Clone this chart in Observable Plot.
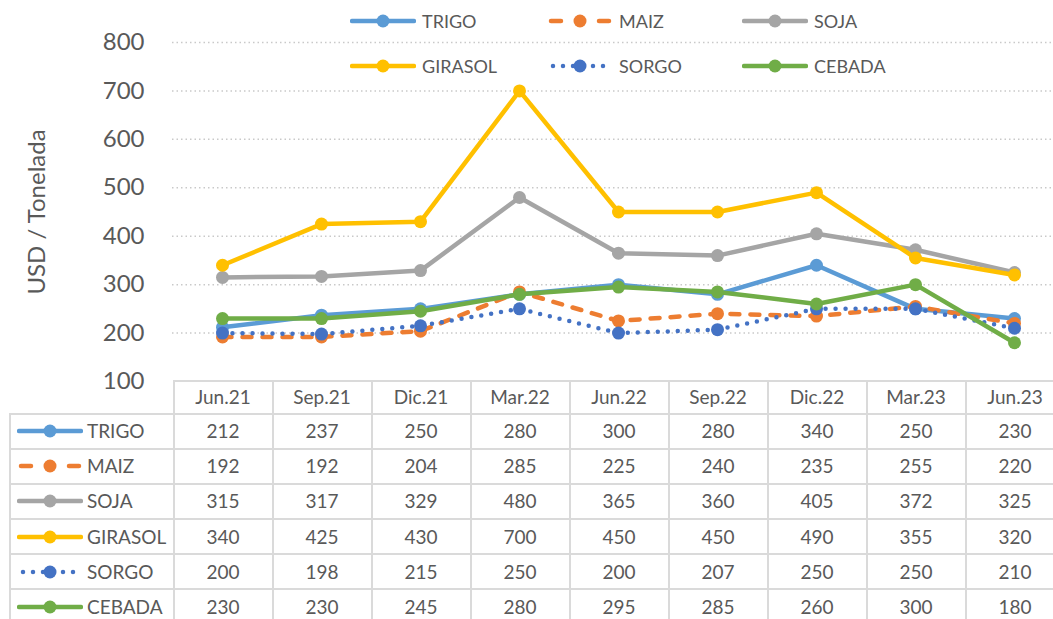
<!DOCTYPE html>
<html><head><meta charset="utf-8">
<script src="https://cdn.jsdelivr.net/npm/d3@7"></script>
<script src="https://cdn.jsdelivr.net/npm/@observablehq/plot@0.6"></script>
<style>
body{margin:0;background:#fff;font-family:Lato, sans-serif;}
#wrap{position:relative;width:1053px;height:619px;overflow:hidden;background:#fff;}
#wrap svg.chart{position:absolute;left:0;top:0;}
.leg{position:absolute;display:flex;align-items:center;font-size:18px;color:#595959;height:24px;white-space:nowrap;}
.leg svg{margin-right:6px;}
table.dt{position:absolute;left:9px;top:380px;border-collapse:collapse;table-layout:fixed;font-size:19px;line-height:22px;color:#595959;}
table.dt td{border:2px solid #dadada;padding:0;text-align:center;overflow:hidden;white-space:nowrap;}
table.dt td.lab{text-align:left;}
.labin{display:flex;align-items:center;padding-left:6px;}
.labin svg{margin-right:4px;}
</style></head><body><div id="wrap"></div>
<script>
// ---- data ----
const periods = ["Jun.21","Sep.21","Dic.21","Mar.22","Jun.22","Sep.22","Dic.22","Mar.23","Jun.23"];
const seriesNames = ["TRIGO","MAIZ","SOJA","GIRASOL","SORGO","CEBADA"];
const trigo   = [212,237,250,280,300,280,340,250,230];
const maiz    = [192,192,204,285,225,240,235,255,220];
const soja    = [315,317,329,480,365,360,405,372,325];
const girasol = [340,425,430,700,450,450,490,355,320];
const sorgo   = [200,198,215,250,200,207,250,250,210];
const cebada  = [230,230,245,280,295,285,260,300,180];
const yTicks  = [100,200,300,400,500,600,700,800];
const yTitle  = "USD / Tonelada";

// ---- styles ----
const seriesValues = [trigo, maiz, soja, girasol, sorgo, cebada];
const colors = ["#5B9BD5","#ED7D31","#A5A5A5","#FFC000","#4472C4","#70AD47"];
const dashes = [null, "9,11", null, null, "0,10", null];

const rows = seriesNames.flatMap((s, i) => periods.map((p, j) => ({serie: s, period: p, value: seriesValues[i][j]})));

const marks = [
  Plot.gridY(yTicks.filter(t => t > 100), {stroke:"#c9c9c9", strokeOpacity:1, strokeWidth:1.5, strokeDasharray:"1.5,3"}),
  Plot.axisY(yTicks, {tickSize:0, tickPadding:28, fontSize:24, color:"#595959", label:yTitle, labelAnchor:"center", labelArrow:"none", labelOffset:145})
];
seriesNames.forEach((s, i) => {
  const d = rows.filter(r => r.serie === s);
  marks.push(Plot.line(d, {x:"period", y:"value", stroke:colors[i], strokeWidth:4.5, strokeDasharray:dashes[i], strokeLinecap:"round", strokeLinejoin:"round"}));
  marks.push(Plot.dot(d, {x:"period", y:"value", r:6.5, fill:colors[i], stroke:null}));
});

const chart = Plot.plot({
  width:1053, height:619,
  marginTop:42, marginBottom:238, marginLeft:172, marginRight:0,
  style:{fontFamily:"Lato, sans-serif", background:"transparent", overflow:"visible"},
  x:{type:"point", domain:periods, range:[172, 1063], padding:0.5, axis:null},
  y:{domain:[100,800], axis:null},
  marks
});
chart.classList.add("chart");
const wrap = document.getElementById("wrap");
wrap.appendChild(chart);

// ---- swatch helper ----
function swatch(i, w) {
  const ns = "http://www.w3.org/2000/svg";
  const svg = document.createElementNS(ns, "svg");
  svg.setAttribute("width", w); svg.setAttribute("height", 16);
  const c = w / 2;
  const line = document.createElementNS(ns, "line");
  line.setAttribute("y1", 8); line.setAttribute("y2", 8);
  line.setAttribute("stroke", colors[i]); line.setAttribute("stroke-width", 4.5);
  line.setAttribute("stroke-linecap", "round");
  if (seriesNames[i] === "MAIZ") {
    line.setAttribute("x1", 4); line.setAttribute("x2", w - 4);
    const L = w - 8; line.setAttribute("stroke-dasharray", `10,${L - 20},10`);
  } else if (seriesNames[i] === "SORGO") {
    line.setAttribute("x1", 6); line.setAttribute("x2", w - 6);
    line.setAttribute("stroke-dasharray", "0,10");
  } else {
    line.setAttribute("x1", 2); line.setAttribute("x2", w - 2);
  }
  svg.appendChild(line);
  const dot = document.createElementNS(ns, "circle");
  dot.setAttribute("cx", c); dot.setAttribute("cy", 8); dot.setAttribute("r", 6.5);
  dot.setAttribute("fill", colors[i]);
  svg.appendChild(dot);
  return svg;
}

// ---- legend ----
const legX = [350, 547, 742], legY = [21, 66];
seriesNames.forEach((s, i) => {
  const el = document.createElement("div");
  el.className = "leg";
  el.style.left = legX[i % 3] + "px";
  el.style.top = (legY[Math.floor(i / 3)] - 12) + "px";
  el.appendChild(swatch(i, 66));
  const t = document.createElement("span"); t.textContent = s;
  el.appendChild(t);
  wrap.appendChild(el);
});

// ---- data table ----
const sx = chart.scale("x");
const step = sx.apply(periods[1]) - sx.apply(periods[0]);
const colStart = sx.apply(periods[0]) - step / 2;
const table = document.createElement("table");
table.className = "dt";
const cg = document.createElement("colgroup");
const c0 = document.createElement("col"); c0.style.width = (colStart - 9) + "px"; cg.appendChild(c0);
periods.forEach(() => { const c = document.createElement("col"); c.style.width = step + "px"; cg.appendChild(c); });
table.appendChild(cg);
table.style.width = (colStart - 9 + step * periods.length) + "px";
const hr = document.createElement("tr"); hr.style.height = "32.5px";
const h0 = document.createElement("td"); h0.style.border = "none"; hr.appendChild(h0);
periods.forEach(p => { const td = document.createElement("td"); td.textContent = p; hr.appendChild(td); });
table.appendChild(hr);
seriesNames.forEach((s, i) => {
  const tr = document.createElement("tr"); tr.style.height = "35.2px";
  const lab = document.createElement("td"); lab.className = "lab";
  const inner = document.createElement("div"); inner.className = "labin";
  inner.appendChild(swatch(i, 66));
  const t = document.createElement("span"); t.textContent = s; inner.appendChild(t);
  lab.appendChild(inner); tr.appendChild(lab);
  seriesValues[i].forEach(v => { const td = document.createElement("td"); td.textContent = v; tr.appendChild(td); });
  table.appendChild(tr);
});
wrap.appendChild(table);
</script></body></html>
